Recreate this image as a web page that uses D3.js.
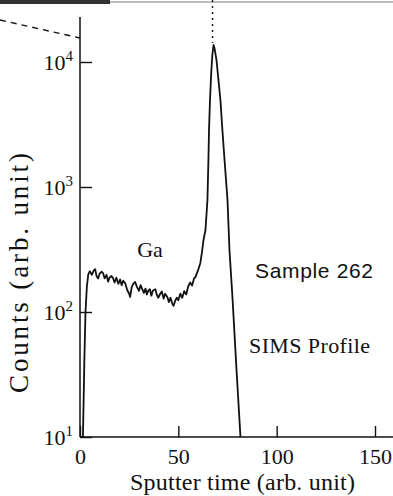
<!DOCTYPE html>
<html>
<head>
<meta charset="utf-8">
<script src="https://cdn.jsdelivr.net/npm/d3@7"></script>
<style>
  body { margin: 0; background: #fff; }
  svg { display: block; }
  .axis text { font-family: "Liberation Serif", serif; font-size: 22px; fill: #111; }
  .axis line { stroke: #111; stroke-width: 1.4; }
  .axis path { display: none; }
</style>
</head>
<body>
<div id="chart"></div>
<script>
// sputter time (arb. unit)
const times = [
  0, 1.5, 2.2, 2.8, 3.5, 4.2, 5, 6, 7, 7.7, 8.5, 9.2, 10, 11, 11.7, 12.5, 13.5, 14.3,
  15, 16, 16.8, 17.6, 18.5, 19.5, 20.4, 21.2, 22, 23, 24, 25, 25.5, 26.3, 27, 28, 29,
  30, 30.8, 31.6, 32.5, 33.3, 34, 34.7, 35.5, 36.3, 37, 38.3, 39, 39.8, 40.8, 41.6,
  42.5, 43.3, 44.4, 45.2, 46, 47, 47.6, 48.5, 49.2, 50, 51, 52, 53, 54, 55, 56, 57,
  58, 58.7, 60, 61.2, 62, 62.8, 63.8, 64.3, 64.8, 65.3, 65.6, 66.1, 66.8, 67.3, 67.9,
  68.4, 69.4, 70.4, 71.4, 72.4, 73.5, 75, 76, 77.6, 79.6, 81.6
];
// Ga counts (arb. unit)
const counts = [
  10, 10, 40, 100, 160, 200, 212, 198, 215, 220, 192, 185, 203, 210, 205, 186, 198, 175,
  188, 194, 186, 172, 188, 168, 182, 164, 178, 170, 150, 140, 132, 158, 167, 174, 158,
  148, 164, 153, 142, 154, 138, 148, 152, 135, 148, 152, 138, 130, 140, 146,
  128, 140, 132, 120, 130, 116, 112, 124, 130, 124, 140, 130, 147, 138, 160, 172, 163,
  186, 190, 215, 247, 300, 377, 453, 597, 787, 1644, 2858, 4966, 8630, 11380, 13680,
  12900, 10370, 7180, 4966, 2858, 1644, 787, 313, 125, 34, 10
];

const xTicks = [0, 50, 100, 150];
const yTicks = [10, 100, 1000, 10000];
const yTickExp = ['1', '2', '3', '4'];

const W = 393, H = 496;
const svg = d3.select('#chart').append('svg')
  .attr('width', W)
  .attr('height', H);

const x = d3.scaleLinear().domain([0, 150]).range([80, 375]);
const y = d3.scaleLog().domain([10, 10000]).range([437, 62]);

// scan artefacts at the top edge
svg.append('rect').attr('x', 0).attr('y', 0).attr('width', 110).attr('height', 4).attr('fill', '#333');
svg.append('rect').attr('x', 110).attr('y', 1).attr('width', 283).attr('height', 2).attr('fill', '#bbb');
svg.append('line')
  .attr('x1', 0).attr('y1', 20).attr('x2', x(0)).attr('y2', 38)
  .attr('stroke', '#111').attr('stroke-width', 1.4).attr('stroke-dasharray', '6,5');

// axis lines
svg.append('line')
  .attr('x1', x(0)).attr('x2', x(0)).attr('y1', 17).attr('y2', y(10))
  .attr('stroke', '#111').attr('stroke-width', 1.5);
svg.append('line')
  .attr('x1', x(0)).attr('x2', W).attr('y1', y(10)).attr('y2', y(10))
  .attr('stroke', '#111').attr('stroke-width', 1.5);

const gx = svg.append('g')
  .attr('class', 'axis')
  .attr('transform', 'translate(0,' + y(10) + ')')
  .call(d3.axisBottom(x).tickValues(xTicks).tickSizeInner(-11).tickSizeOuter(0).tickPadding(11));

const gy = svg.append('g')
  .attr('class', 'axis')
  .attr('transform', 'translate(' + x(0) + ',0)')
  .call(d3.axisLeft(y).tickValues(yTicks).tickSizeInner(-12).tickSizeOuter(0).tickPadding(7));

gy.selectAll('.tick text').each(function(d, i) {
  let t = d3.select(this).text('10');
  t.append('tspan')
    .attr('dy', '-0.55em')
    .attr('font-size', '15px')
    .text(yTickExp[i]);
});

// profile curve
const line = d3.line()
  .x((d, i) => x(times[i]))
  .y(d => y(d));

svg.append('path')
  .datum(counts)
  .attr('d', line)
  .attr('fill', 'none')
  .attr('stroke', '#111')
  .attr('stroke-width', 1.8)
  .attr('stroke-linejoin', 'round');

// dotted marker above the peak
let iPeak = d3.maxIndex(counts);
svg.append('line')
  .attr('x1', x(times[iPeak]) - 1).attr('x2', x(times[iPeak]) - 1)
  .attr('y1', 0).attr('y2', y(counts[iPeak]) - 2)
  .attr('stroke', '#111').attr('stroke-width', 1.4).attr('stroke-dasharray', '2,4');

// labels
svg.append('text')
  .attr('x', 130).attr('y', 490)
  .attr('textLength', 225).attr('lengthAdjust', 'spacing')
  .style('font-family', '"Liberation Serif", serif').style('font-size', '24px').attr('fill', '#111')
  .text('Sputter time (arb. unit)');

svg.append('text')
  .attr('transform', 'translate(28,273) rotate(-90)')
  .attr('text-anchor', 'middle')
  .attr('textLength', 240).attr('lengthAdjust', 'spacing')
  .style('font-family', '"Liberation Serif", serif').style('font-size', '27px').attr('fill', '#111')
  .text('Counts (arb. unit)');

svg.append('text')
  .attr('x', 150).attr('y', 257).attr('text-anchor', 'middle')
  .style('font-family', '"Liberation Serif", serif').style('font-size', '22px').attr('fill', '#111')
  .text('Ga');

svg.append('text')
  .attr('x', 255).attr('y', 278)
  .attr('textLength', 118).attr('lengthAdjust', 'spacing')
  .style('font-family', '"Liberation Sans", sans-serif').style('font-size', '21px').attr('fill', '#111')
  .text('Sample 262');

svg.append('text')
  .attr('x', 249).attr('y', 353)
  .attr('textLength', 121).attr('lengthAdjust', 'spacing')
  .style('font-family', '"Liberation Serif", serif').style('font-size', '22px').attr('fill', '#111')
  .text('SIMS Profile');
</script>
</body>
</html>
